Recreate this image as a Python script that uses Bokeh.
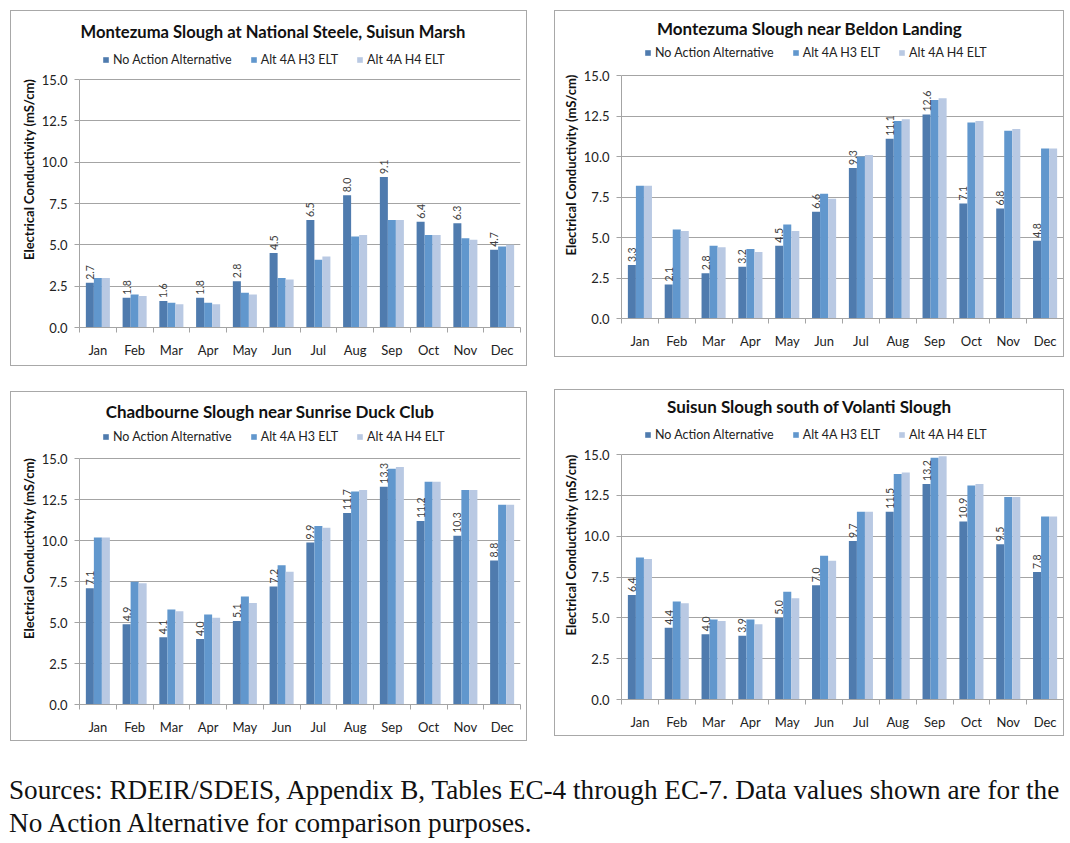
from bokeh.plotting import figure
from bokeh.models import (Range1d, FixedTicker, PrintfTickFormatter, Legend, LegendItem, Div,
                          ColumnDataSource, Label)
from bokeh.layouts import row, column
from bokeh.embed import file_html
from bokeh.resources import INLINE
from bokeh.core.properties import value
import math

months = ["Jan", "Feb", "Mar", "Apr", "May", "Jun", "Jul", "Aug", "Sep", "Oct", "Nov", "Dec"]
series_names = ["No Action Alternative", "Alt 4A H3 ELT", "Alt 4A H4 ELT"]

title_1 = "Montezuma Slough at National Steele, Suisun Marsh"
naa_1 = [2.7, 1.8, 1.6, 1.8, 2.8, 4.5, 6.5, 8.0, 9.1, 6.4, 6.3, 4.7]
h3_1 = [3.0, 2.0, 1.5, 1.5, 2.1, 3.0, 4.1, 5.5, 6.5, 5.6, 5.4, 4.9]
h4_1 = [3.0, 1.9, 1.4, 1.4, 2.0, 2.9, 4.3, 5.6, 6.5, 5.6, 5.3, 5.0]

title_2 = "Montezuma Slough near Beldon Landing"
naa_2 = [3.3, 2.1, 2.8, 3.2, 4.5, 6.6, 9.3, 11.1, 12.6, 7.1, 6.8, 4.8]
h3_2 = [8.2, 5.5, 4.5, 4.3, 5.8, 7.7, 10.0, 12.2, 13.5, 12.1, 11.6, 10.5]
h4_2 = [8.2, 5.4, 4.4, 4.1, 5.4, 7.4, 10.1, 12.3, 13.6, 12.2, 11.7, 10.5]

title_3 = "Chadbourne Slough near Sunrise Duck Club"
naa_3 = [7.1, 4.9, 4.1, 4.0, 5.1, 7.2, 9.9, 11.7, 13.3, 11.2, 10.3, 8.8]
h3_3 = [10.2, 7.5, 5.8, 5.5, 6.6, 8.5, 10.9, 13.0, 14.4, 13.6, 13.1, 12.2]
h4_3 = [10.2, 7.4, 5.7, 5.3, 6.2, 8.1, 10.8, 13.1, 14.5, 13.6, 13.1, 12.2]

title_4 = "Suisun Slough south of Volanti Slough"
naa_4 = [6.4, 4.4, 4.0, 3.9, 5.0, 7.0, 9.7, 11.5, 13.2, 10.9, 9.5, 7.8]
h3_4 = [8.7, 6.0, 4.9, 4.9, 6.6, 8.8, 11.5, 13.8, 14.8, 13.1, 12.4, 11.2]
h4_4 = [8.6, 5.9, 4.8, 4.6, 6.2, 8.5, 11.5, 13.9, 14.9, 13.2, 12.4, 11.2]

y_ticks = [0.0, 2.5, 5.0, 7.5, 10.0, 12.5, 15.0]
y_max = 15.0
y_label = "Electrical Conductivity (mS/cm)"
footer = ("Sources: RDEIR/SDEIS, Appendix B, Tables EC-4 through EC-7. Data values shown are for the<br>"
          "No Action Alternative for comparison purposes.")

colors = ["#4f7bae", "#6197cd", "#b9c9e3"]
FONT = "Lato"
BAR_W = 0.218
offsets = [-BAR_W, 0.0, BAR_W]


def make_panel(title, naa, h3, h4, width, height, left, right, top, bottom, margin,
               title_offset, title_size):
    plot_h = height - top - bottom
    y_end = y_max * (1 + top / plot_h)
    p = figure(width=width, height=height, x_range=Range1d(0, len(months)), y_range=Range1d(0, y_end),
               output_backend="svg", toolbar_location=None, title=None,
               min_border_left=left, min_border_right=right,
               min_border_top=0, min_border_bottom=bottom)
    p.margin = margin
    p.styles = {"border": "1px solid #a8a8a8"}
    p.outline_line_color = None
    p.background_fill_color = "white"
    p.border_fill_color = "white"

    centers = [i + 0.5 for i in range(len(months))]
    renderers = []
    for vals, off, col in zip([naa, h3, h4], offsets, colors):
        src = ColumnDataSource(dict(x=[c + off for c in centers], top=vals))
        r = p.vbar(x="x", top="top", width=BAR_W, bottom=0, source=src,
                   fill_color=col, line_color=None)
        renderers.append(r)

    lab_src = ColumnDataSource(dict(x=[c + offsets[0] for c in centers], y=naa,
                                    t=["%.1f" % v for v in naa]))
    p.text(x="x", y="y", text="t", source=lab_src, angle=math.pi / 2,
           text_align="left", text_baseline="middle", y_offset=-3, x_offset=0,
           text_font=value(FONT), text_font_size="10.5px", text_color="#404040")

    # chart title, 48 px above the 15.0 line
    p.add_layout(Label(x=len(months) / 2, y=y_max + 48 * y_max / plot_h, text=title,
                       x_offset=title_offset, text_align="center", text_baseline="middle",
                       text_font=FONT, text_font_size=title_size, text_font_style="bold",
                       text_color="#111111"))

    p.xgrid.visible = False
    p.ygrid.grid_line_color = "#a4a4a4"
    p.ygrid.ticker = FixedTicker(ticks=y_ticks)

    ya = p.yaxis[0]
    ya.ticker = FixedTicker(ticks=y_ticks)
    ya.bounds = (0, y_max)
    ya.formatter = PrintfTickFormatter(format="%.1f")
    ya.axis_line_color = "#a4a4a4"
    ya.major_tick_line_color = "#a4a4a4"
    ya.major_tick_out = 5
    ya.major_tick_in = 0
    ya.minor_tick_line_color = None
    ya.major_label_standoff = 7
    ya.major_label_text_font = FONT
    ya.major_label_text_font_size = "13px"
    ya.major_label_text_color = "#222222"
    ya.axis_label = y_label
    ya.axis_label_text_font = FONT
    ya.axis_label_text_font_size = "13px"
    ya.axis_label_text_font_style = "bold"
    ya.axis_label_text_color = "#111111"
    ya.axis_label_standoff = 2

    xa = p.xaxis[0]
    xa.ticker = FixedTicker(ticks=centers, minor_ticks=list(range(len(months) + 1)))
    xa.major_label_overrides = {c: m for c, m in zip(centers, months)}
    xa.axis_line_color = "#a4a4a4"
    xa.major_tick_line_color = None
    xa.major_tick_out = 0
    xa.major_tick_in = 0
    xa.minor_tick_line_color = "#a4a4a4"
    xa.minor_tick_out = 5
    xa.minor_tick_in = 0
    xa.major_label_standoff = 9
    xa.major_label_text_font = FONT
    xa.major_label_text_font_size = "13px"
    xa.major_label_text_color = "#222222"

    legend = Legend(items=[LegendItem(label=n, renderers=[r]) for n, r in zip(series_names, renderers)],
                    orientation="horizontal", location=(23, plot_h + 12),
                    glyph_width=7, glyph_height=7, label_standoff=4, spacing=18,
                    padding=0, margin=0, label_height=14,
                    label_text_font=FONT, label_text_font_size="12.5px", label_text_color="#222222",
                    border_line_color=None, background_fill_alpha=0)
    p.add_layout(legend, "center")
    return p


p1 = make_panel(title_1, naa_1, h3_1, h4_1, 517, 356, 68, 8, 68, 40, (10, 0, 0, 10), -27, "16.6px")
p2 = make_panel(title_2, naa_2, h3_2, h4_2, 510, 347, 66, 2, 65, 36, (10, 0, 0, 27), -33, "17px")
p3 = make_panel(title_3, naa_3, h3_3, h4_3, 517, 350, 68, 8, 67, 35, (25, 0, 0, 10), -30, "17px")
p4 = make_panel(title_4, naa_4, h3_4, h4_4, 510, 347, 66, 2, 64, 38, (23, 0, 0, 27), -33, "17px")

note = Div(text=footer, width=1060, height=72, margin=(33, 0, 0, 9),
           styles={"font-family": "Liberation Serif", "font-size": "27.2px", "line-height": "33px",
                   "color": "#111111", "white-space": "nowrap"})

layout = column(row(p1, p2), row(p3, p4), note)
open("out.html", "w").write(file_html(layout, INLINE))
